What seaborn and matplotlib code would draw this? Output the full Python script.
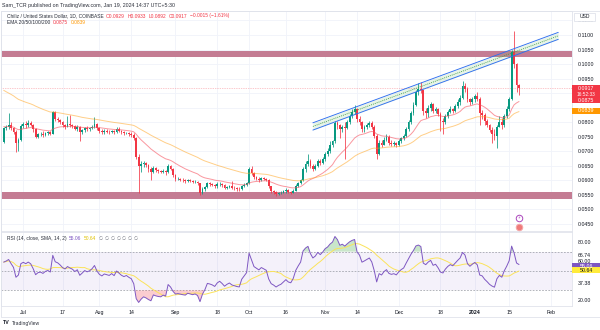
import numpy as np
import pandas as pd
import matplotlib
matplotlib.use("Agg")
import matplotlib.pyplot as plt
import matplotlib.transforms as mtrans
from matplotlib.patches import Rectangle
from matplotlib.ticker import FuncFormatter
import seaborn as sns

# ---------------- data ----------------
START = "2023-06-23"
BASE = pd.Timestamp("2023-07-01")
FIRST_OPEN = 0.0732

CLOSE = [
    # Jun 23-30
    0.0780, 0.0785, 0.0792, 0.0780, 0.0768, 0.0730, 0.0738, 0.0788,
    # Jul
    0.0795, 0.0790, 0.0798, 0.0792, 0.0775, 0.0750, 0.0758, 0.0760, 0.0755, 0.0762,
    0.0765, 0.0760, 0.0835, 0.0812, 0.0808, 0.0800, 0.0790, 0.0785, 0.0795, 0.0790,
    0.0786, 0.0778, 0.0784, 0.0765, 0.0772, 0.0780, 0.0776, 0.0779, 0.0785, 0.0795, 0.0780,
    # Aug
    0.0770, 0.0765, 0.0770, 0.0768, 0.0766, 0.0770, 0.0765, 0.0775, 0.0770, 0.0765,
    0.0762, 0.0764, 0.0760, 0.0757, 0.0745, 0.0680, 0.0648, 0.0655, 0.0660, 0.0652,
    0.0640, 0.0630, 0.0642, 0.0636, 0.0632, 0.0630, 0.0633, 0.0628, 0.0650, 0.0640, 0.0620,
    # Sep
    0.0605, 0.0606, 0.0603, 0.0600, 0.0598, 0.0601, 0.0598, 0.0595, 0.0596, 0.0590,
    0.0558, 0.0570, 0.0578, 0.0590, 0.0588, 0.0585, 0.0580, 0.0586, 0.0589, 0.0583,
    0.0575, 0.0578, 0.0580, 0.0575, 0.0573, 0.0571, 0.0570, 0.0580, 0.0585, 0.0590,
    # Oct
    0.0638, 0.0625, 0.0610, 0.0606, 0.0602, 0.0608, 0.0605, 0.0602, 0.0580, 0.0565,
    0.0560, 0.0553, 0.0556, 0.0558, 0.0562, 0.0566, 0.0560, 0.0558, 0.0565, 0.0580,
    0.0590, 0.0600, 0.0640, 0.0655, 0.0665, 0.0650, 0.0640, 0.0648, 0.0665, 0.0660, 0.0672,
    # Nov
    0.0690, 0.0700, 0.0720, 0.0735, 0.0798, 0.0790, 0.0775, 0.0785, 0.0780, 0.0800,
    0.0820, 0.0835, 0.0845, 0.0810, 0.0800, 0.0775, 0.0782, 0.0790, 0.0798, 0.0785,
    0.0752, 0.0690, 0.0730, 0.0722, 0.0740, 0.0750, 0.0730, 0.0725, 0.0728, 0.0722,
    # Dec
    0.0735, 0.0745, 0.0752, 0.0775, 0.0800, 0.0830, 0.0860, 0.0905, 0.0915, 0.0910,
    0.0840, 0.0832, 0.0850, 0.0862, 0.0838, 0.0845, 0.0828, 0.0805, 0.0800, 0.0820,
    0.0835, 0.0845, 0.0840, 0.0855, 0.0870, 0.0885, 0.0925, 0.0915, 0.0880, 0.0868, 0.0880,
    # Jan
    0.0890, 0.0880, 0.0830, 0.0825, 0.0805, 0.0790, 0.0772, 0.0760, 0.0752, 0.0785,
    0.0800, 0.0790, 0.0820, 0.0845, 0.0880, 0.1040, 0.1000, 0.0929, 0.0917,
]
HIGH = [
    0.0785, 0.0792, 0.0831, 0.0800, 0.0784, 0.0772, 0.0745, 0.0795,
    0.0800, 0.0803, 0.0808, 0.0805, 0.0795, 0.0780, 0.0762, 0.0768, 0.0770, 0.0768,
    0.0770, 0.0770, 0.0840, 0.0838, 0.0818, 0.0812, 0.0805, 0.0795, 0.0820, 0.0825,
    0.0795, 0.0790, 0.0790, 0.0786, 0.0778, 0.0785, 0.0786, 0.0784, 0.0790, 0.0818, 0.0798,
    0.0785, 0.0778, 0.0775, 0.0776, 0.0772, 0.0774, 0.0772, 0.0782, 0.0785, 0.0774,
    0.0770, 0.0768, 0.0768, 0.0765, 0.0762, 0.0748, 0.0690, 0.0668, 0.0665, 0.0662,
    0.0655, 0.0645, 0.0648, 0.0645, 0.0640, 0.0636, 0.0638, 0.0636, 0.0656, 0.0652, 0.0642,
    0.0622, 0.0610, 0.0608, 0.0607, 0.0604, 0.0606, 0.0604, 0.0602, 0.0600, 0.0598,
    0.0592, 0.0578, 0.0582, 0.0596, 0.0595, 0.0592, 0.0588, 0.0594, 0.0596, 0.0592,
    0.0586, 0.0582, 0.0584, 0.0598, 0.0580, 0.0578, 0.0576, 0.0585, 0.0590, 0.0594,
    0.0645, 0.0650, 0.0628, 0.0614, 0.0610, 0.0612, 0.0610, 0.0608, 0.0604, 0.0582,
    0.0568, 0.0563, 0.0560, 0.0562, 0.0566, 0.0574, 0.0570, 0.0565, 0.0570, 0.0586,
    0.0596, 0.0606, 0.0645, 0.0668, 0.0690, 0.0672, 0.0655, 0.0655, 0.0672, 0.0675, 0.0680,
    0.0698, 0.0712, 0.0735, 0.0740, 0.0805, 0.0805, 0.0795, 0.0792, 0.0800, 0.0808,
    0.0828, 0.0845, 0.0860, 0.0850, 0.0820, 0.0805, 0.0792, 0.0798, 0.0805, 0.0805,
    0.0790, 0.0758, 0.0740, 0.0738, 0.0750, 0.0760, 0.0755, 0.0738, 0.0735, 0.0732,
    0.0742, 0.0750, 0.0760, 0.0785, 0.0808, 0.0840, 0.0870, 0.0912, 0.0935, 0.0940,
    0.0912, 0.0850, 0.0858, 0.0870, 0.0865, 0.0852, 0.0850, 0.0835, 0.0815, 0.0828,
    0.0842, 0.0855, 0.0850, 0.0862, 0.0880, 0.0895, 0.0942, 0.0935, 0.0920, 0.0885, 0.0888,
    0.0898, 0.0905, 0.0888, 0.0842, 0.0830, 0.0810, 0.0795, 0.0785, 0.0775, 0.0792,
    0.0822, 0.0815, 0.0828, 0.0855, 0.0888, 0.1048, 0.1112, 0.1005, 0.0933,
]
LOW = [
    0.0728, 0.0772, 0.0776, 0.0772, 0.0760, 0.0698, 0.0700, 0.0735,
    0.0780, 0.0780, 0.0785, 0.0786, 0.0768, 0.0745, 0.0745, 0.0752, 0.0750, 0.0752,
    0.0756, 0.0755, 0.0758, 0.0805, 0.0802, 0.0795, 0.0782, 0.0778, 0.0785, 0.0785,
    0.0780, 0.0772, 0.0770, 0.0735, 0.0760, 0.0768, 0.0770, 0.0770, 0.0775, 0.0780, 0.0772,
    0.0762, 0.0758, 0.0760, 0.0762, 0.0760, 0.0762, 0.0758, 0.0762, 0.0765, 0.0760,
    0.0756, 0.0758, 0.0754, 0.0750, 0.0740, 0.0672, 0.0557, 0.0630, 0.0645, 0.0645,
    0.0630, 0.0600, 0.0625, 0.0628, 0.0625, 0.0626, 0.0627, 0.0620, 0.0625, 0.0635, 0.0612,
    0.0598, 0.0600, 0.0598, 0.0595, 0.0592, 0.0594, 0.0593, 0.0590, 0.0592, 0.0584,
    0.0548, 0.0552, 0.0565, 0.0575, 0.0580, 0.0580, 0.0575, 0.0575, 0.0582, 0.0578,
    0.0570, 0.0572, 0.0575, 0.0570, 0.0566, 0.0565, 0.0563, 0.0568, 0.0578, 0.0582,
    0.0588, 0.0618, 0.0605, 0.0600, 0.0596, 0.0598, 0.0600, 0.0597, 0.0575, 0.0558,
    0.0553, 0.0547, 0.0548, 0.0552, 0.0555, 0.0558, 0.0555, 0.0552, 0.0555, 0.0562,
    0.0578, 0.0588, 0.0598, 0.0630, 0.0650, 0.0642, 0.0632, 0.0636, 0.0645, 0.0652, 0.0655,
    0.0665, 0.0685, 0.0695, 0.0715, 0.0730, 0.0775, 0.0745, 0.0765, 0.0675, 0.0775,
    0.0795, 0.0815, 0.0828, 0.0800, 0.0790, 0.0765, 0.0768, 0.0775, 0.0785, 0.0778,
    0.0745, 0.0675, 0.0688, 0.0715, 0.0720, 0.0735, 0.0722, 0.0718, 0.0718, 0.0715,
    0.0718, 0.0730, 0.0740, 0.0748, 0.0770, 0.0795, 0.0825, 0.0855, 0.0895, 0.0900,
    0.0825, 0.0815, 0.0818, 0.0840, 0.0830, 0.0832, 0.0820, 0.0770, 0.0758, 0.0795,
    0.0815, 0.0830, 0.0832, 0.0835, 0.0850, 0.0860, 0.0880, 0.0905, 0.0868, 0.0858, 0.0862,
    0.0870, 0.0872, 0.0790, 0.0812, 0.0790, 0.0782, 0.0765, 0.0730, 0.0740, 0.0712,
    0.0785, 0.0775, 0.0785, 0.0815, 0.0840, 0.0875, 0.0985, 0.0905, 0.0892,
]

EMA20_SEED = 0.0785
EMA50_SEED = 0.0915
RSI_SEED_GAIN = 0.00050
RSI_SEED_LOSS = 0.00060

RESIST_ZONE = (0.1023, 0.1046)
SUPPORT_ZONE = (0.0535, 0.0561)
CHANNEL_DATES = ["2023-10-27", "2024-02-04"]
CHANNEL_UPPER = [0.0798, 0.1109]
CHANNEL_LOWER = [0.0773, 0.1085]

TIME_TICKS = ["2023-07-01", "2023-07-17", "2023-08-01", "2023-08-14", "2023-09-01",
              "2023-09-18", "2023-10-01", "2023-10-16", "2023-11-01", "2023-11-14",
              "2023-12-01", "2023-12-18", "2024-01-01", "2024-01-15", "2024-02-01"]
TIME_LABELS = ["Jul", "17", "Aug", "14", "Sep", "18", "Oct", "16", "Nov", "14",
               "Dec", "18", "2024", "15", "Feb"]
PRICE_TICKS = [0.0450, 0.0500, 0.0550, 0.0600, 0.0650, 0.0700, 0.0750, 0.0800,
               0.0850, 0.0900, 0.0950, 0.1000, 0.1050, 0.1100, 0.1150]
HIDDEN_PRICE_LABELS = [0.0850, 0.0900]   # covered by the value boxes in the original
RSI_TICKS = [20.00, 37.38, 60.00, 66.74, 80.00]

LAST_PRICE = 0.0917
COUNTDOWN = "16:52:33"
EMA20_LAST = 0.0875
EMA50_LAST = 0.0839
RSI_LAST = 55.06
RSI_SMA_LAST = 50.64

# ---------------- derived frame ----------------
dates = pd.date_range(START, periods=len(CLOSE), freq="D")
df = pd.DataFrame({"date": dates, "close": CLOSE, "high": HIGH, "low": LOW})
df["open"] = [FIRST_OPEN] + CLOSE[:-1]
df["x"] = (df["date"] - BASE).dt.days


def ema(seed, span):
    s = pd.Series([seed] + CLOSE)
    return s.ewm(span=span, adjust=False).mean().iloc[1:].to_numpy()


df["ema20"] = ema(EMA20_SEED, 20)
df["ema50"] = ema(EMA50_SEED, 50)

delta = df["close"] - df["open"]
gain = delta.clip(lower=0)
loss = (-delta).clip(lower=0)
ag = pd.Series([RSI_SEED_GAIN] + list(gain)).ewm(alpha=1 / 14, adjust=False).mean().iloc[1:].to_numpy()
al = pd.Series([RSI_SEED_LOSS] + list(loss)).ewm(alpha=1 / 14, adjust=False).mean().iloc[1:].to_numpy()
df["rsi"] = 100 - 100 / (1 + ag / al)
df["rsi_sma"] = df["rsi"].rolling(14, min_periods=1).mean()

# ---------------- styling ----------------
sns.set_theme(style="white")
plt.rcParams["font.family"] = ["Liberation Sans", "DejaVu Sans"]

GREEN = "#089981"
RED = "#f23645"
ORANGE = "#ff9800"
PURPLE = "#7e57c2"
GRID = "#f0f3fa"
BORDER = "#e0e3eb"
TXT = "#131722"
LEG = "#2a2e39"

W, H = 600, 330
fig = plt.figure(figsize=(6, 3.3), dpi=100)
fig.patch.set_facecolor("white")
ID = mtrans.IdentityTransform()
renderer = fig.canvas.get_renderer()


def fpos(x0, y0, x1, y1):
    return [x0 / W, 1 - y1 / H, (x1 - x0) / W, (y1 - y0) / H]


ax = fig.add_axes(fpos(1, 11, 572, 231))
axr = fig.add_axes(fpos(1, 232, 572, 306), sharex=ax)

xt = [(pd.Timestamp(d) - BASE).days for d in TIME_TICKS]
XLIM = (-9.1, 223.6)

# ---- main price panel ----
ax.set_xlim(*XLIM)
ax.set_ylim(0.04259, 0.11825)
ax.set_xticks(xt)
ax.set_yticks(PRICE_TICKS)
ax.grid(True, color=GRID, lw=0.6)
ax.set_axisbelow(True)

ax.axhspan(*RESIST_ZONE, color="#c47c93", zorder=2, lw=0)
ax.axhspan(*SUPPORT_ZONE, color="#c47c93", zorder=2, lw=0)

cx = [(pd.Timestamp(d) - BASE).days for d in CHANNEL_DATES]
ax.fill_between(cx, CHANNEL_LOWER, CHANNEL_UPPER, color="#66bb6a", alpha=0.15, lw=0, zorder=2)
ax.plot(cx, CHANNEL_UPPER, color="#2f6ef0", lw=0.65, zorder=5)
ax.plot(cx, CHANNEL_LOWER, color="#2f6ef0", lw=0.65, zorder=5)
mid = [(u + l) / 2 for u, l in zip(CHANNEL_UPPER, CHANNEL_LOWER)]
ax.plot(cx, mid, color="#43a047", lw=0.6, ls=(0, (1.2, 1.2)), zorder=5)

ax.axhline(LAST_PRICE, color=RED, lw=0.5, ls=(0, (1, 1.5)), alpha=0.55, zorder=2)

up = df["close"] >= df["open"]
cols = np.where(up, GREEN, RED)
ax.vlines(df["x"], df["low"], df["high"], colors=cols, lw=0.55, zorder=3)
body = (df["close"] - df["open"]).abs().clip(lower=0.00008)
ax.bar(df["x"], body, bottom=np.minimum(df["open"], df["close"]), width=0.74,
       color=cols, lw=0, zorder=4)

sns.lineplot(data=df, x="x", y="ema20", ax=ax, color="#f7525f", lw=0.7, alpha=0.6, zorder=6)
sns.lineplot(data=df, x="x", y="ema50", ax=ax, color="#ffa726", lw=0.7, alpha=0.55, zorder=6)

ax.set_xlabel("")
ax.set_ylabel("")
ax.yaxis.tick_right()
ax.yaxis.set_major_formatter(FuncFormatter(
    lambda v, p: "" if any(abs(v - h) < 1e-6 for h in HIDDEN_PRICE_LABELS) else f"{v:.4f}"))
ax.tick_params(axis="y", length=0, pad=4, labelsize=3.8, colors=TXT)
ax.tick_params(axis="x", length=0, labelbottom=False)
for s in ax.spines.values():
    s.set_color(BORDER)
    s.set_linewidth(0.6)

# event markers under the last candle
bt = mtrans.blended_transform_factory(ax.transData, ax.transAxes)
last_x = df["x"].iloc[-1]
ax.scatter([last_x], [0.060], s=22, transform=bt, facecolor="white",
           edgecolor="#ab47bc", lw=0.7, zorder=8, clip_on=False)
ax.text(last_x, 0.060, "\u26a1", transform=bt, ha="center", va="center",
        fontsize=3, color="#ab47bc", zorder=9, family=["DejaVu Sans"])
ax.scatter([last_x], [0.018], s=22, transform=bt, facecolor="#ef7a7a",
           edgecolor="#f4a6a6", lw=0.7, zorder=8, clip_on=False)

# ---- RSI panel ----
axr.set_ylim(13.8, 90.3)
axr.axhspan(30, 70, color=PURPLE, alpha=0.08, lw=0, zorder=1)
for lvl in (70, 50, 30):
    axr.axhline(lvl, color="#9598a1", lw=0.5, ls=(0, (2.5, 2)), zorder=2)
r = df["rsi"].to_numpy()
axr.fill_between(df["x"], 70, r, where=r > 70, interpolate=True, color="#4caf50", alpha=0.3, lw=0, zorder=2)
axr.fill_between(df["x"], 30, r, where=r < 30, interpolate=True, color="#f23645", alpha=0.25, lw=0, zorder=2)
sns.lineplot(data=df, x="x", y="rsi_sma", ax=axr, color="#fbe35a", lw=0.7, zorder=3)
sns.lineplot(data=df, x="x", y="rsi", ax=axr, color=PURPLE, lw=0.7, zorder=4)
axr.set_xlim(*XLIM)
axr.set_xticks(xt)
axr.set_xticklabels(TIME_LABELS)
axr.set_yticks(RSI_TICKS)
axr.yaxis.tick_right()
axr.yaxis.set_major_formatter(FuncFormatter(lambda v, p: f"{v:.2f}"))
axr.grid(True, axis="x", color=GRID, lw=0.6)
axr.set_axisbelow(True)
axr.tick_params(axis="y", length=0, pad=4, labelsize=3.8, colors=TXT)
axr.tick_params(axis="x", length=0, pad=3, labelsize=3.8, colors=TXT)
for lbl in axr.get_xticklabels():
    if lbl.get_text() == "2024":
        lbl.set_fontweight("bold")
axr.set_xlabel("")
axr.set_ylabel("")
for s in axr.spines.values():
    s.set_color(BORDER)
    s.set_linewidth(0.6)

# ---------------- axis value boxes ----------------
def value_box(axis, value, lines, face, tcolor="white"):
    ydisp = axis.transData.transform((0, value))[1]
    h = 6.0 * len(lines)
    top = ydisp + 3.0
    fig.add_artist(Rectangle((572, top - h), 28, h, transform=ID,
                             facecolor=face, edgecolor="none", zorder=20))
    for i, txt in enumerate(lines):
        fig.text(586, top - 3.0 - 6.0 * i, txt, transform=ID, ha="center", va="center",
                 fontsize=3.8 if i == 0 else 3.4, color=tcolor, zorder=21)


value_box(ax, LAST_PRICE, [f"{LAST_PRICE:.4f}", COUNTDOWN], RED)
value_box(ax, EMA20_LAST, [f"{EMA20_LAST:.4f}"], RED)
value_box(ax, EMA50_LAST, [f"{EMA50_LAST:.4f}"], ORANGE)
value_box(axr, RSI_LAST, [f"{RSI_LAST:.2f}"], PURPLE)
value_box(axr, RSI_SMA_LAST, [f"{RSI_SMA_LAST:.2f}"], "#ffeb3b", TXT)

# USD box
fig.add_artist(Rectangle((574, H - 20.5), 21, 8, transform=ID, facecolor="white",
                         edgecolor=BORDER, lw=0.6, zorder=20))
fig.text(584.5, H - 16.5, "USD", transform=ID, ha="center", va="center",
         fontsize=3.6, color=TXT, zorder=21)

# outer frame
fig.add_artist(Rectangle((0.5, H - 317), 599, 306, transform=ID, facecolor="none",
                         edgecolor=BORDER, lw=0.6, zorder=19))

# ---------------- texts (segments flow left to right) ----------------
def chain(x, y, parts, size=3.5, gap=2.5, weight="normal"):
    for s, color in parts:
        tx = fig.text(x, H - y, s, transform=ID, ha="left", va="center", fontsize=size,
                      color=color, fontweight=weight, zorder=22)
        x = tx.get_window_extent(renderer).x1 + gap
    return x


chain(2, 5.5, [("Sam_TCR published on TradingView.com, Jan 19, 2024 14:37 UTC+5:30", LEG)], 3.8)
chain(7, 16, [("Chiliz / United States Dollar, 1D, COINBASE", LEG),
              ("O0.0929", RED), ("H0.0933", RED), ("L0.0892", RED), ("C0.0917", RED),
              ("\u22120.0015 (\u22121.61%)", RED)], 3.5, 2.5)
chain(7, 22.8, [("EMA 20/50/100/200", LEG), (f"{EMA20_LAST:.4f}", RED),
                (f"{EMA50_LAST:.4f}", ORANGE)], 3.5, 2.5)
xr = chain(7, 238.5, [("RSI (14, close, SMA, 14, 2)", LEG), (f"{RSI_LAST:.2f}", PURPLE),
                      (f"{RSI_SMA_LAST:.2f}", "#e0c200")], 3.5, 2.5)
chain(xr, 238.5, [("\u2205", "#6a6d78")] * 7, 3.3, 1.8)
chain(3, 323, [("TV", TXT)], 3.8, 1.5, "bold")
chain(11.5, 323, [("TradingView", LEG)], 3.6)

fig.savefig("out.png", dpi=100, facecolor="white")
